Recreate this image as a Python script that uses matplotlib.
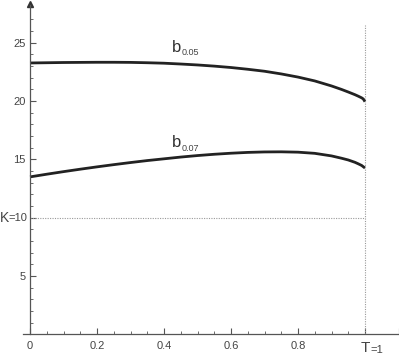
import matplotlib
matplotlib.use("Agg")
import matplotlib.pyplot as plt
import numpy as np

plt.rcParams['font.family'] = ['Liberation Sans', 'DejaVu Sans']

# data
t_b05 = [0.0, 0.05, 0.1, 0.15, 0.2, 0.25, 0.3, 0.35, 0.4, 0.45, 0.5, 0.55, 0.6, 0.65,
         0.7, 0.75, 0.8, 0.85, 0.9, 0.93, 0.95, 0.97, 0.98, 0.99, 0.995, 1.0]
b05 = [23.27, 23.29, 23.31, 23.32, 23.33, 23.33, 23.32, 23.29, 23.25, 23.18, 23.1, 23.0,
       22.88, 22.73, 22.56, 22.33, 22.06, 21.73, 21.3, 21.0, 20.78, 20.55, 20.42, 20.28,
       20.18, 19.95]
t_b07 = [0.0, 0.05, 0.1, 0.15, 0.2, 0.25, 0.3, 0.35, 0.4, 0.45, 0.5, 0.55, 0.6, 0.65,
         0.7, 0.75, 0.8, 0.85, 0.9, 0.93, 0.95, 0.97, 0.98, 0.99, 1.0]
b07 = [13.5, 13.73, 13.95, 14.16, 14.36, 14.55, 14.73, 14.9, 15.05, 15.2, 15.33, 15.44,
       15.53, 15.6, 15.64, 15.65, 15.62, 15.52, 15.3, 15.1, 14.95, 14.75, 14.62, 14.48, 14.26]
K = 10
T = 1
xtick_vals = [0, 0.2, 0.4, 0.6, 0.8]
xtick_labels = ['0', '0.2', '0.4', '0.6', '0.8']
ytick_vals = [5, 15, 20, 25]
ytick_labels = ['5', '15', '20', '25']

fig = plt.figure(figsize=(3.99, 3.6), dpi=100)
ax = fig.add_axes([0, 0, 1, 1])
ax.set_xlim(-30/335, 369/335)
ax.set_ylim(334.3/11.66 - 360/11.66, 334.3/11.66)

for s in ['top', 'right']:
    ax.spines[s].set_visible(False)
ax.spines['left'].set_position(('data', 0))
ax.spines['bottom'].set_position(('data', 0))
ax.spines['left'].set_bounds(0, 28.2)
ax.spines['bottom'].set_bounds(-0.021, 1.1)
for s in ['left', 'bottom']:
    ax.spines[s].set_color('#555555')
    ax.spines[s].set_linewidth(0.9)

# arrow on y axis
ax.plot([0], [28.35], marker='^', color='#333333', markersize=5, clip_on=False)

c = '#222222'
ax.plot(t_b05, b05, color=c, lw=2.0, solid_capstyle='butt', solid_joinstyle='round')
ax.plot(t_b07, b07, color=c, lw=2.0, solid_capstyle='butt', solid_joinstyle='round')

# dotted reference lines
ax.plot([0, T], [K, K], ls=(0, (1, 1.2)), color='#999999', lw=0.8)
ax.plot([T, T], [0, 26.5], ls=(0, (1, 1.2)), color='#999999', lw=0.8)

# ticks
ax.set_xticks(xtick_vals + [T, 1.1])
ax.set_xticklabels(xtick_labels + ['', ''])
ax.set_xticks(np.arange(0.05, 1.0, 0.05).tolist(), minor=True)
ax.set_yticks(ytick_vals + [K])
ax.set_yticklabels(ytick_labels + [''])
ax.set_yticks([v for v in range(1, 28) if v % 5 != 0], minor=True)
ax.tick_params(axis='both', which='major', direction='in', length=4, width=0.8,
               color='#555555', labelsize=8, labelcolor='#444444')
ax.tick_params(axis='both', which='minor', direction='in', length=2.2, width=0.6,
               color='#555555')
ax.tick_params(axis='x', pad=5)
ax.tick_params(axis='y', pad=3)

# special labels
ax.text(T, -0.6, 'T', fontsize=11, color='#444444', ha='center', va='top')
ax.text(T + 0.017, -0.9, '=1', fontsize=8, color='#444444', ha='left', va='top')
ax.text(-0.0655, K, '=10', fontsize=8, color='#444444', ha='left', va='center')
ax.text(-0.0885, K, 'K', fontsize=10, color='#444444', ha='left', va='center')

# curve labels
ax.text(0.424, 24.25, 'b', fontsize=12, color='#333333', ha='left', va='baseline')
ax.text(0.454, 23.95, '0.05', fontsize=6.5, color='#444444', ha='left', va='baseline')
ax.text(0.424, 16.05, 'b', fontsize=12, color='#333333', ha='left', va='baseline')
ax.text(0.454, 15.75, '0.07', fontsize=6.5, color='#444444', ha='left', va='baseline')

fig.savefig('out.png', dpi=100)
